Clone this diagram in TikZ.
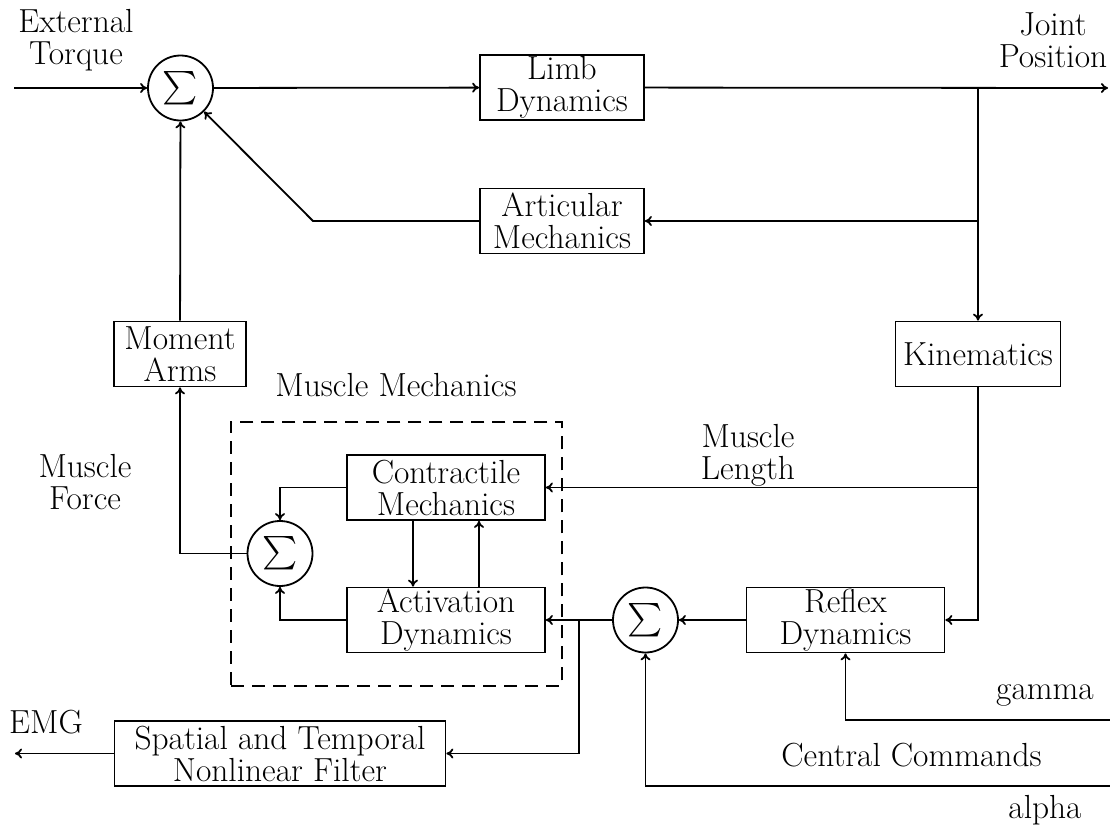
\documentclass[tikz,border=0pt]{standalone}
\usepackage{amsmath,amssymb}
\usetikzlibrary{arrows.meta}
\newcommand{\dfont}{\fontsize{16.7}{16}\selectfont}
\tikzset{
  >={To[length=3.5pt,width=5pt]},
  blk/.style={draw,align=center,minimum height=32.5pt,inner sep=0.5pt,font=\dfont},
  sm/.style={circle,draw,minimum size=32.5pt,inner sep=0pt,font=\dfont},
  lbl/.style={align=center,inner sep=0pt,font=\dfont},
  grp/.style={draw,dashed,dash pattern=on 6.5pt off 4pt,minimum width=165.35pt,minimum height=132pt},
  every picture/.style={line width=0.9pt},
}
\begin{document}
\begin{tikzpicture}[x=0.5pt,y=-0.5pt]
\useasboundingbox (0,0) rectangle (1110,825);
\node[grp] (mech) at (396.35,553.7){};
\node[sm] (s1) at (180.5,88){$\sum$};
\node[blk,minimum width=82pt] (limb) at (562,87.5){Limb\\Dynamics};
\node[blk,minimum width=82pt] (art) at (562,221){Articular\\Mechanics};
\node[blk,minimum width=82.5pt] (kin) at (978,354){Kinematics};
\node[blk,minimum width=66pt] (ma) at (180,354){Moment\\Arms};
\node[blk,minimum width=99pt] (con) at (446,487.5){Contractile\\Mechanics};
\node[blk,minimum width=99pt] (act) at (446,620){Activation\\Dynamics};
\node[sm] (s2) at (280,553.5){$\sum$};
\node[sm] (s3) at (645.5,620){$\sum$};
\node[blk,minimum width=99pt] (rfx) at (845.5,620){Reflex\\Dynamics};
\node[blk,minimum width=165.5pt] (flt) at (280,753.5){Spatial and Temporal\\Nonlinear Filter};
\node[lbl] (ext) at (76,40){External\\Torque};
\node[lbl] (jp) at (1053,40){Joint\\Position};
\node[lbl] (ml) at (748,455){Muscle\\Length};
\node[lbl] (mm) at (396,385){Muscle Mechanics};
\node[lbl] (mf) at (85,482){Muscle\\Force};
\node[lbl] (emg) at (46,722){EMG};
\node[lbl] (gam) at (1045,695){gamma};
\node[lbl] (cc) at (911.5,755){Central Commands};
\node[lbl] (alp) at (1045,810){alpha};
\coordinate (in) at (14,88);
\coordinate (out) at (1108,88);
\coordinate (jb) at (978,88);
\coordinate (ak) at (313,221);
\coordinate (br) at (579.3,620);
\coordinate (emgend) at (15,753.5);
\coordinate (gin) at (1110,720);
\coordinate (ain) at (1110,786);
\draw[->] (in) -- (s1);
\draw[->] (s1) -- (limb);
\draw[->] (limb) -- (out);
\draw[->] (jb) -- (kin);
\draw[->] (jb |- art) -- (art);
\draw[->] (art) -- (ak) -- (s1);
\draw[->] (ma) -- (s1);
\draw[->] (kin) -- (kin |- rfx) -- (rfx);
\draw[->] (kin |- con) -- (con);
\draw[->] (con) -| (s2);
\draw[->] (act) -| (s2);
\draw[->] ([xshift=-16.5pt]con.south) -- ([xshift=-16.5pt]act.north);
\draw[->] ([xshift=16.5pt]act.north) -- ([xshift=16.5pt]con.south);
\draw[->] (s2) -| (ma);
\draw[->] (rfx) -- (s3);
\draw[->] (s3) -- (act);
\draw[->] (br) |- (flt);
\draw[->] (flt) -- (emgend);
\draw[->] (gin) -| (rfx);
\draw[->] (ain) -| (s3);
\end{tikzpicture}
\end{document}
